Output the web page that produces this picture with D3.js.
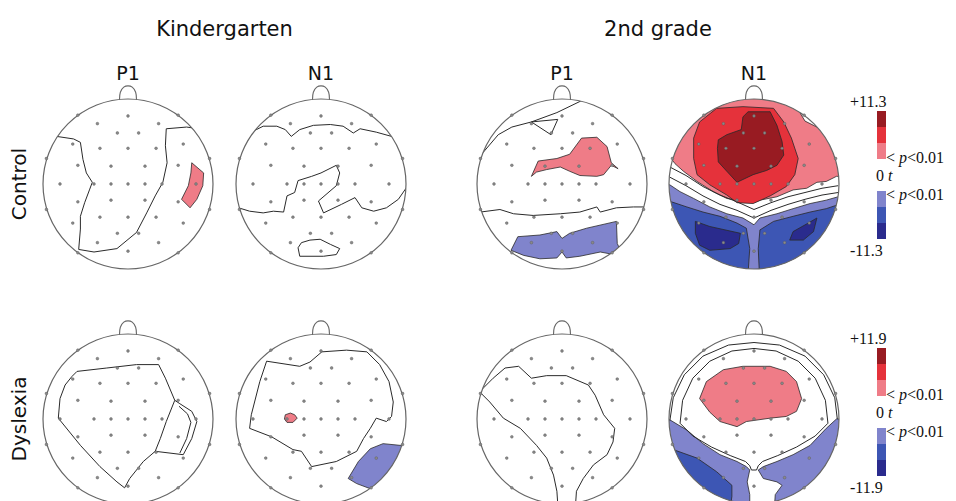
<!DOCTYPE html>
<html>
<head>
<meta charset="utf-8">
<script src="https://cdn.jsdelivr.net/npm/d3@7"></script>
<style>
  body { margin: 0; background: #fff; }
  text { fill: #111; }
</style>
</head>
<body>
<div id="chart"></div>
<script>
// ---- data ----
var grades = ['Kindergarten', '2nd grade'];
var components = ['P1', 'N1', 'P1', 'N1'];
var groups = ['Control', 'Dyslexia'];
var levels = [3, 2, 1, -1, -2, -3];
var scaleMax = ['+11.3', '+11.9'];
var scaleMin = ['-11.3', '-11.9'];

// electrode sites, head radius = 1, y down
var electrodes = [
  [-0.59, -0.81], [0.59, -0.81], [-0.96, -0.3], [0.96, -0.3],
  [-0.96, 0.3], [0.96, 0.3], [-0.59, 0.81], [0.59, 0.81],
  [0, -0.8], [-0.36, -0.71], [0.36, -0.71], [-0.125, -0.6], [0.125, -0.6],
  [-0.65, -0.47], [0.65, -0.47], [-0.33, -0.42], [0, -0.42], [0.33, -0.42],
  [-0.59, -0.22], [-0.2, -0.21], [0.2, -0.21], [0.59, -0.22],
  [-0.8, 0], [-0.4, 0], [-0.2, 0], [0, 0], [0.2, 0], [0.4, 0], [0.8, 0],
  [-0.59, 0.21], [-0.2, 0.19], [0.2, 0.19], [0.59, 0.21],
  [-0.65, 0.46], [-0.33, 0.39], [0, 0.39], [0.33, 0.39], [0.65, 0.46],
  [-0.125, 0.58], [0.125, 0.58], [-0.36, 0.69], [0.36, 0.69], [0, 0.79]
];

// contour shapes per map: [t level, points]; level 0 = contour line only
var controlKP1 = [
  [0, [[-0.84, -0.56], [-0.64, -0.53], [-0.56, -0.49], [-0.53, -0.29], [-0.49, -0.13],
       [-0.42, -0.02], [-0.45, 0.06], [-0.51, 0.22], [-0.56, 0.38], [-0.56, 0.53],
       [-0.58, 0.77], [-0.4, 0.8], [-0.13, 0.76], [0.1, 0.57], [0.22, 0.34], [0.32, 0.14],
       [0.41, -0.02], [0.46, -0.25], [0.44, -0.45], [0.45, -0.65], [0.69, -0.67], [0.76, -0.66]]],
  [1, [[0.75, -0.25], [0.89, -0.13], [0.88, 0.02], [0.81, 0.18], [0.73, 0.28],
       [0.63, 0.18], [0.71, 0.02], [0.74, -0.13]]]
];

var controlKN1 = [
  [0, [[-0.8, -0.62], [-0.68, -0.68], [-0.52, -0.68], [-0.42, -0.64], [-0.35, -0.56],
       [-0.25, -0.64], [-0.09, -0.69], [0.11, -0.7], [0.26, -0.68], [0.38, -0.6],
       [0.46, -0.65], [0.65, -0.61], [0.83, -0.56]]],
  [0, [[-0.97, 0.28], [-0.84, 0.32], [-0.68, 0.34], [-0.56, 0.32], [-0.44, 0.33],
       [-0.4, 0.14], [-0.31, 0.1], [-0.27, -0.04], [-0.11, -0.09], [0, -0.13],
       [0.18, -0.22], [0.22, -0.13], [0.18, 0.02], [-0.03, 0.2], [0.03, 0.34],
       [0.24, 0.24], [0.4, 0.16], [0.48, 0.28], [0.62, 0.32], [0.77, 0.28],
       [0.91, 0.18], [1.0, 0.05]]],
  [0, [[-0.23, 0.69], [-0.13, 0.66], [-0.01, 0.65], [0.11, 0.71], [0.22, 0.76],
       [0.18, 0.83], [0.03, 0.85], [-0.25, 0.85], [-0.27, 0.75], [-0.23, 0.69]]]
];

var controlGP1 = [
  [0, [[-0.98, -0.31], [-0.75, -0.58], [-0.59, -0.67], [-0.36, -0.73], [-0.06, -0.84], [0.25, -0.99]]],
  [0, [[-0.36, -0.73], [-0.05, -0.76], [-0.13, -0.58], [-0.36, -0.73]]],
  [0, [[-0.96, 0.33], [-0.73, 0.3], [-0.57, 0.35], [-0.34, 0.37], [-0.02, 0.35],
       [0.21, 0.33], [0.41, 0.27], [0.45, 0.33], [0.64, 0.28], [0.84, 0.27], [0.98, 0.27]]],
  [1, [[-0.36, -0.09], [-0.28, -0.27], [-0.06, -0.3], [0.09, -0.35], [0.23, -0.54],
       [0.41, -0.55], [0.53, -0.44], [0.58, -0.25], [0.66, -0.18], [0.58, -0.22],
       [0.49, -0.11], [0.41, -0.09], [0.21, -0.1], [0.09, -0.15], [-0.02, -0.2],
       [-0.18, -0.17], [-0.3, -0.14]]],
  [-1, [[-0.6, 0.78], [-0.52, 0.62], [-0.26, 0.6], [-0.06, 0.56], [0, 0.64], [0.09, 0.58],
        [0.29, 0.52], [0.64, 0.44], [0.65, 0.7], [0.72, 0.85], [0.45, 0.8], [0.21, 0.85],
        [0.05, 0.87], [0, 0.8], [-0.06, 0.87], [-0.26, 0.88], [-0.45, 0.84]]]
];

var controlGN1 = [
  [1, [[-1.2, -0.28], [-1.2, -1.3], [0.5, -1.3], [0.54, -0.84], [0.6, -0.74], [0.74, -0.67],
       [1.2, -0.6], [1.2, -0.09], [0.97, -0.09], [0.85, -0.03], [0.74, -0.02], [0.62, 0.05],
       [0.46, 0.07], [0.27, 0.15], [0.07, 0.19], [0, 0.22], [-0.16, 0.2], [-0.32, 0.17],
       [-0.48, 0.09], [-0.67, -0.03], [-0.83, -0.15], [-0.93, -0.24], [-0.96, -0.28]]],
  [2, [[-0.44, -0.89], [-0.13, -0.91], [0.23, -0.89], [0.35, -0.73], [0.44, -0.54],
       [0.52, -0.3], [0.48, -0.11], [0.38, 0.03], [0.19, 0.14], [-0.01, 0.23],
       [-0.2, 0.22], [-0.32, 0.13], [-0.52, 0.01], [-0.67, -0.11], [-0.71, -0.3],
       [-0.71, -0.54], [-0.64, -0.73]]],
  [3, [[-0.42, -0.52], [-0.32, -0.58], [-0.15, -0.64], [-0.13, -0.79], [-0.07, -0.85],
       [0.19, -0.85], [0.27, -0.69], [0.33, -0.5], [0.35, -0.34], [0.27, -0.22],
       [0.15, -0.16], [-0.01, -0.11], [-0.2, -0.02], [-0.32, -0.15], [-0.42, -0.26],
       [-0.43, -0.42]]],
  [-1, [[-1.2, 0.01], [-0.99, 0.01], [-0.87, 0.09], [-0.71, 0.17], [-0.52, 0.27],
        [-0.32, 0.35], [-0.13, 0.4], [0, 0.48], [0.07, 0.4], [0.27, 0.35], [0.46, 0.29],
        [0.66, 0.23], [0.85, 0.19], [0.99, 0.15], [1.2, 0.15], [1.2, 1.2], [-1.2, 1.2]]],
  [-2, [[-1.2, 0.21], [-0.97, 0.21], [-0.79, 0.27], [-0.6, 0.33], [-0.4, 0.38],
        [-0.2, 0.46], [-0.09, 0.52], [-0.05, 0.76], [-0.08, 1.2], [-1.2, 1.2]]],
  [-2, [[0.07, 1.2], [0.05, 0.76], [0.07, 0.54], [0.23, 0.44], [0.46, 0.38],
        [0.66, 0.33], [0.85, 0.29], [0.97, 0.25], [1.2, 0.25], [1.2, 1.2]]],
  [-3, [[-0.69, 0.44], [-0.52, 0.5], [-0.16, 0.58], [-0.18, 0.7], [-0.28, 0.76],
        [-0.52, 0.78], [-0.64, 0.72], [-0.69, 0.58]]],
  [-3, [[0.74, 0.4], [0.7, 0.56], [0.58, 0.66], [0.42, 0.66], [0.46, 0.56], [0.62, 0.47]]],
  [0, [[-0.99, -0.2], [-0.8, -0.1], [-0.6, 0.03], [-0.4, 0.13], [-0.2, 0.21], [0, 0.3],
       [0.2, 0.22], [0.4, 0.15], [0.6, 0.1], [0.8, 0.05], [0.99, 0.02]]],
  [0, [[-0.99, -0.08], [-0.8, 0.02], [-0.6, 0.14], [-0.4, 0.24], [-0.2, 0.31], [0, 0.4],
       [0.2, 0.31], [0.4, 0.24], [0.6, 0.18], [0.8, 0.13], [0.99, 0.1]]]
];

var dyslexiaKP1 = [
  [0, [[-0.66, -0.5], [-0.6, -0.56], [-0.25, -0.6], [0.1, -0.64], [0.36, -0.64],
       [0.44, -0.48], [0.55, -0.22], [0.45, 0.03], [0.38, 0.23], [0.32, 0.38],
       [0.18, 0.5], [0.02, 0.7], [-0.04, 0.81], [-0.13, 0.74], [-0.33, 0.56],
       [-0.56, 0.31], [-0.82, -0.01], [-0.8, -0.24], [-0.74, -0.4], [-0.66, -0.5]]],
  [0, [[0.55, -0.22], [0.61, -0.18], [0.75, -0.09], [0.81, 0.03], [0.75, 0.23],
       [0.65, 0.42], [0.32, 0.38]]],
  [0, [[0.6, -0.15], [0.7, -0.06], [0.74, 0.04], [0.69, 0.23], [0.61, 0.4]]]
];

var dyslexiaKN1 = [
  [0, [[-0.64, -0.68], [-0.25, -0.62], [-0.13, -0.67], [0.01, -0.79], [0.3, -0.81],
       [0.54, -0.79], [0.69, -0.64], [0.8, -0.44], [0.85, -0.2], [0.83, -0.03],
       [0.77, 0.03], [0.65, -0.01], [0.58, 0.11], [0.5, 0.23], [0.42, 0.38],
       [0.18, 0.5], [-0.11, 0.56], [-0.23, 0.38], [-0.33, 0.36], [-0.58, 0.21],
       [-0.84, 0.11], [-0.82, -0.05], [-0.72, -0.44], [-0.64, -0.68]]],
  [1, [[-0.42, -0.05], [-0.36, -0.07], [-0.31, -0.05], [-0.28, -0.01], [-0.33, 0.04],
       [-0.4, 0.04], [-0.43, 0.0]]],
  [-1, [[0.32, 0.7], [0.44, 0.5], [0.58, 0.35], [0.73, 0.29], [0.93, 0.31], [1.2, 0.3],
        [1.2, 1.2], [0.58, 0.82], [0.42, 0.76]]]
];

var dyslexiaGP1 = [
  [0, [[-0.97, -0.32], [-0.81, -0.48], [-0.67, -0.6], [-0.51, -0.62], [-0.36, -0.48],
       [-0.18, -0.51], [0.05, -0.51], [0.31, -0.4], [0.39, -0.28], [0.49, -0.05],
       [0.62, 0.11], [0.6, 0.27], [0.53, 0.42], [0.37, 0.54], [0.25, 0.7], [0.17, 0.85],
       [0.16, 1.0]]],
  [0, [[-0.97, -0.32], [-0.85, -0.2], [-0.69, -0.01], [-0.49, 0.11], [-0.3, 0.31],
       [-0.18, 0.46], [-0.1, 0.66], [-0.06, 0.85], [-0.05, 1.0]]]
];

var dyslexiaGN1 = [
  [-1, [[-1.2, 0.01], [-0.99, 0.01], [-0.79, 0.13], [-0.6, 0.29], [-0.4, 0.42],
        [-0.2, 0.5], [-0.09, 0.56], [-0.05, 0.6], [-0.08, 0.74], [-0.05, 0.89],
        [-0.05, 1.2], [-1.2, 1.2]]],
  [-1, [[1.2, 0.0], [0.97, 0.0], [0.85, 0.11], [0.66, 0.31], [0.46, 0.42], [0.27, 0.5],
        [0.11, 0.56], [0.05, 0.6], [0.11, 0.7], [0.27, 0.74], [0.33, 0.78], [0.25, 0.89],
        [0.23, 1.2], [1.2, 1.2]]],
  [-2, [[-1.2, 0.36], [-0.95, 0.36], [-0.67, 0.46], [-0.44, 0.62], [-0.26, 0.78],
        [-0.26, 0.91], [-0.3, 1.2], [-1.2, 1.2]]],
  [1, [[-0.64, -0.24], [-0.56, -0.44], [-0.36, -0.58], [-0.13, -0.62], [0.19, -0.62],
       [0.38, -0.56], [0.5, -0.44], [0.56, -0.24], [0.5, -0.09], [0.38, -0.03],
       [0.19, -0.01], [-0.09, 0.03], [-0.2, 0.09], [-0.4, 0.03], [-0.52, -0.08]]],
  [0, [[-0.99, 0.02], [-0.95, -0.25], [-0.82, -0.52], [-0.6, -0.74], [-0.3, -0.87],
       [0, -0.9], [0.3, -0.87], [0.6, -0.74], [0.82, -0.52], [0.95, -0.25], [0.98, 0.0]]],
  [0, [[-0.87, 0.05], [-0.84, -0.22], [-0.72, -0.48], [-0.52, -0.68], [-0.26, -0.8],
       [0, -0.83], [0.26, -0.8], [0.52, -0.68], [0.72, -0.48], [0.84, -0.22],
       [0.87, 0.05], [0.72, 0.2], [0.5, 0.33], [0.28, 0.43], [0.1, 0.5], [0.05, 0.55],
       [0.03, 0.6], [-0.03, 0.6], [-0.05, 0.55], [-0.1, 0.5], [-0.28, 0.43],
       [-0.5, 0.33], [-0.72, 0.2], [-0.87, 0.05]]]
];

var maps = [
  [controlKP1, controlKN1, controlGP1, controlGN1],
  [dyslexiaKP1, dyslexiaKN1, dyslexiaGP1, dyslexiaGN1]
];

var noseShape = [[-0.1, -0.99], [-0.09, -1.08], [-0.05, -1.14], [0, -1.155],
  [0.05, -1.14], [0.09, -1.08], [0.1, -0.99]];

// ---- layout ----
var width = 956;
var height = 501;
var headR = 85;
var colX = [128, 321, 562, 754];
var rowY = [184, 419];
var serif = '"Liberation Serif", "Times New Roman", serif';
var sans = '"DejaVu Sans", Verdana, sans-serif';

var color = d3.scaleOrdinal()
    .domain(levels)
    .range(['#981b22', '#e5323b', '#ef7c87', '#8084cc', '#3d56b4', '#2a2b8d']);

var svg = d3.select('#chart')
    .append('svg')
    .attr('width', width)
    .attr('height', height);

// Titles
svg.append('g').selectAll('text')
    .data(grades)
    .enter()
    .append('text')
    .attr('x', function(d, i) { return (colX[i * 2] + colX[i * 2 + 1]) / 2; })
    .attr('y', 36)
    .attr('text-anchor', 'middle')
    .style('font-family', sans)
    .style('font-size', '21px')
    .text(function(d) { return d; });

svg.append('g').selectAll('text')
    .data(components)
    .enter()
    .append('text')
    .attr('x', function(d, i) { return colX[i]; })
    .attr('y', 80)
    .attr('text-anchor', 'middle')
    .style('font-family', sans)
    .style('font-size', '19px')
    .text(function(d) { return d; });

svg.append('g').selectAll('text')
    .data(groups)
    .enter()
    .append('text')
    .attr('transform', function(d, i) {
      return 'translate(26,' + rowY[i] + ') rotate(-90)';
    })
    .attr('text-anchor', 'middle')
    .style('font-family', sans)
    .style('font-size', '20px')
    .text(function(d) { return d; });

// Head maps
maps.forEach(function(row, ri) {
  row.forEach(function(shapes, ci) {
    var id = 'head-' + ri + '-' + ci;
    var cx = colX[ci];
    var cy = rowY[ri];
    var x = d3.scaleLinear().domain([-1, 1]).range([cx - headR, cx + headR]);
    var y = d3.scaleLinear().domain([-1, 1]).range([cy - headR, cy + headR]);
    var line = d3.line()
        .x(function(d) { return x(d[0]); })
        .y(function(d) { return y(d[1]); });

    svg.append('clipPath')
        .attr('id', id)
        .append('circle')
        .attr('cx', cx)
        .attr('cy', cy)
        .attr('r', headR);

    var g = svg.append('g');

    // nose
    g.append('path')
        .attr('d', line.curve(d3.curveCatmullRom)(noseShape))
        .attr('fill', 'none')
        .attr('stroke', '#666')
        .attr('stroke-width', 1.1);
    line.curve(d3.curveLinear);

    var inner = g.append('g').attr('clip-path', 'url(#' + id + ')');

    inner.selectAll('path')
        .data(shapes)
        .enter()
        .append('path')
        .attr('d', function(d) {
          return line(d[1]) + (d[0] !== 0 ? 'Z' : '');
        })
        .attr('fill', function(d) { return d[0] !== 0 ? color(d[0]) : 'none'; })
        .attr('stroke', '#2a2a2a')
        .attr('stroke-width', function(d) { return d[0] !== 0 ? 0.8 : 1; })
        .attr('stroke-linejoin', 'round');

    g.append('circle')
        .attr('cx', cx)
        .attr('cy', cy)
        .attr('r', headR)
        .attr('fill', 'none')
        .attr('stroke', '#666')
        .attr('stroke-width', 1.2);

    g.append('g').selectAll('circle')
        .data(electrodes)
        .enter()
        .append('circle')
        .attr('cx', function(d) { return x(d[0]); })
        .attr('cy', function(d) { return y(d[1]); })
        .attr('r', 1.4)
        .attr('fill', '#8a8a8a')
        .attr('stroke', '#555')
        .attr('stroke-width', 0.4);
  });
});

// Legends
var legendTop = [111, 348];
var barX = 877;
var barW = 9;
var cellH = 16;
var posCells = levels.filter(function(d) { return d > 0; });
var negCells = levels.filter(function(d) { return d < 0; });

legendTop.forEach(function(top, li) {
  var lg = svg.append('g');
  var posY = d3.scaleBand().domain(posCells).range([top, top + cellH * 3]);
  var negY = d3.scaleBand().domain(negCells).range([top + cellH * 5, top + cellH * 8]);

  lg.selectAll('rect.pos')
      .data(posCells)
      .enter()
      .append('rect')
      .attr('x', barX)
      .attr('y', function(d) { return posY(d); })
      .attr('width', barW)
      .attr('height', posY.bandwidth())
      .attr('fill', function(d) { return color(d); });

  lg.selectAll('rect.neg')
      .data(negCells)
      .enter()
      .append('rect')
      .attr('x', barX)
      .attr('y', function(d) { return negY(d); })
      .attr('width', barW)
      .attr('height', negY.bandwidth())
      .attr('fill', function(d) { return color(d); });

  function label(yPos, xPos) {
    return lg.append('text')
        .attr('x', xPos)
        .attr('y', yPos)
        .style('font-family', serif)
        .style('font-size', '16px');
  }

  label(top - 4, 850).text(scaleMax[li]);
  label(top + 145, 850).text(scaleMin[li]);

  var p1 = label(top + 52, 886);
  p1.append('tspan').text('< ');
  p1.append('tspan').style('font-style', 'italic').text('p');
  p1.append('tspan').text('<0.01');

  var zero = label(top + 70, 876);
  zero.append('tspan').text('0 ');
  zero.append('tspan').style('font-style', 'italic').text('t');

  var p2 = label(top + 89, 886);
  p2.append('tspan').text('< ');
  p2.append('tspan').style('font-style', 'italic').text('p');
  p2.append('tspan').text('<0.01');
});
</script>
</body>
</html>
